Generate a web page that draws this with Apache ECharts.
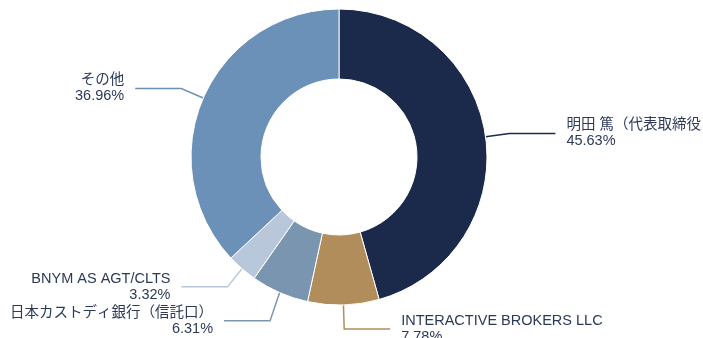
<!DOCTYPE html>
<html>
<head>
<meta charset="utf-8">
<style>
  html, body { margin: 0; padding: 0; background: #ffffff; }
  #chart { width: 703px; height: 338px; }
</style>
<script src="https://cdn.jsdelivr.net/npm/echarts@6/dist/echarts.min.js"></script>
</head>
<body>
<div id="chart"></div>
<script>
// Shareholder composition (%)
const holders = [
  '明田 篤（代表取締役社長）',
  'INTERACTIVE BROKERS LLC',
  '日本カストディ銀行（信託口）',
  'BNYM AS AGT/CLTS',
  'その他'
];
const shares = [45.63, 7.78, 6.31, 3.32, 36.96];
const palette = ['#1b2a4b', '#b08d5a', '#7a95b0', '#b8c8da', '#6c91b8'];

const chart = echarts.init(document.getElementById('chart'), null, { renderer: 'canvas' });

chart.setOption({
  animation: false,
  color: palette,
  series: [{
    type: 'pie',
    // layout box larger than the canvas so labels near the edges are not pulled inward
    left: 0,
    top: 0,
    width: 820,
    height: 400,
    center: [339, 157],
    radius: [78, 148],
    startAngle: 90,
    clockwise: true,
    avoidLabelOverlap: true,
    labelLayout: { hideOverlap: false },
    itemStyle: { borderColor: '#ffffff', borderWidth: 1 },
    label: {
      show: true,
      position: 'outside',
      formatter: p => p.name + '\n' + p.value.toFixed(2) + '%',
      color: '#2c3a57',
      fontSize: 14.5,
      lineHeight: 16,
      fontFamily: '"Liberation Sans", "Noto Sans CJK JP", sans-serif',
      overflow: 'none',
      distanceToLabelLine: 11
    },
    labelLine: {
      show: true,
      length: 24,
      length2: 46,
      lineStyle: { width: 1.5 }
    },
    data: holders.map((name, i) => {
      const item = { name, value: shares[i] };
      // the long title on the right runs into the edge; cut it cleanly
      if (i === 0) item.label = { width: 143, overflow: 'truncate', ellipsis: '' };
      return item;
    })
  }]
});
</script>
</body>
</html>
